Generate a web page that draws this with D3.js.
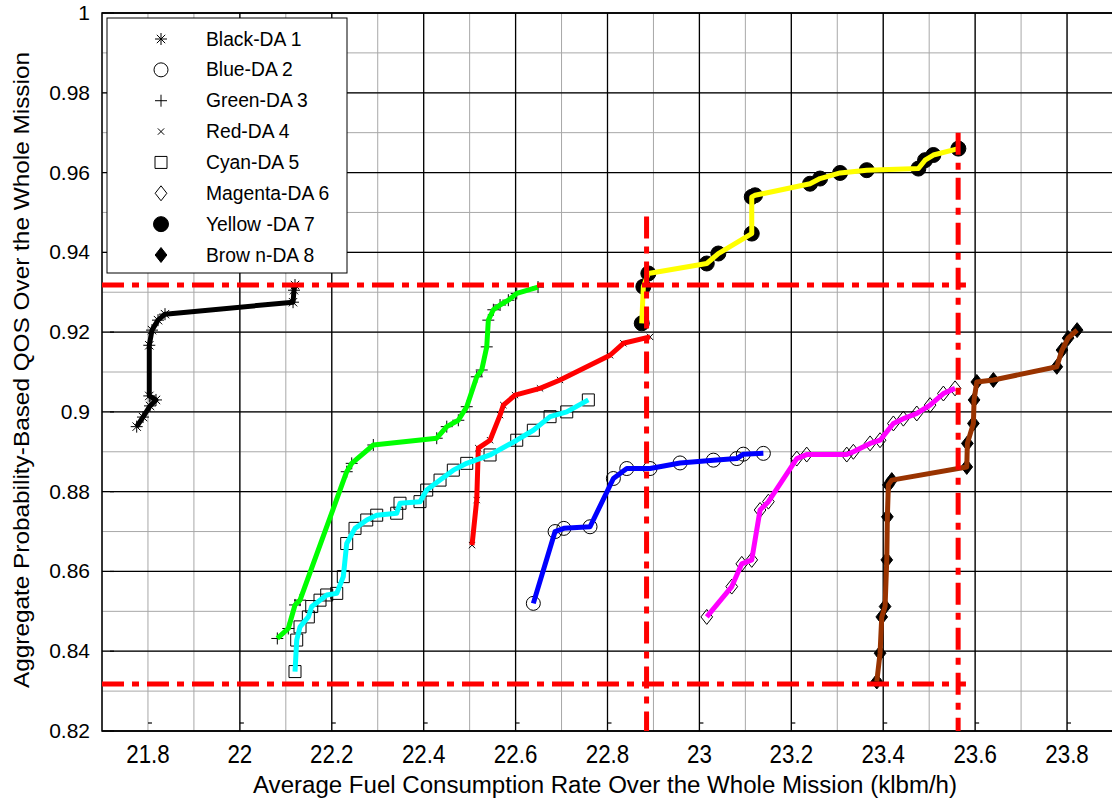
<!DOCTYPE html>
<html>
<head>
<meta charset="utf-8">
<script src="https://cdn.jsdelivr.net/npm/d3@7"></script>
<style>
  body { margin: 0; background: #fff; }
  text { font-family: "Liberation Sans", Arial, sans-serif; fill: #000; }
</style>
</head>
<body>
<svg id="chart"></svg>
<script>
const width = 1112;
const height = 801;

const xTicks = [21.8, 22, 22.2, 22.4, 22.6, 22.8, 23, 23.2, 23.4, 23.6, 23.8];
const yTicks = [0.82, 0.84, 0.86, 0.88, 0.9, 0.92, 0.94, 0.96, 0.98, 1];

const seriesNames = ["Black-DA 1", "Blue-DA 2", "Green-DA 3", "Red-DA 4",
  "Cyan-DA 5", "Magenta-DA 6", "Yellow -DA 7", "Brow n-DA 8"];

// [fuel rate, QOS]
const blackDA1 = [[21.7755,0.8963],[21.7892,0.8987],[21.8045,0.9015],[21.8175,0.9030],
  [21.8029,0.9040],[21.8029,0.9167],[21.8088,0.9205],[21.8219,0.9230],[21.8371,0.9245],
  [22.1157,0.9275],[22.1178,0.9305],[22.12,0.9318]];
const blueDA2 = [[22.6386,0.8520],[22.6859,0.8700],[22.705,0.8708],[22.762,0.8712],
  [22.8128,0.8833],[22.8419,0.8858],[22.8926,0.8858],[22.9579,0.8872],[23.0304,0.8879],
  [23.0813,0.8883],[23.0956,0.8894],[23.1392,0.8896]];
const greenDA3 = [[22.0815,0.8432],[22.1054,0.8457],[22.12,0.8516],[22.1309,0.8528],
  [22.2325,0.8850],[22.2434,0.8871],[22.2904,0.8917],[22.4284,0.8934],[22.4502,0.8963],
  [22.4754,0.8979],[22.4937,0.9013],[22.5155,0.9088],[22.5263,0.9105],[22.5372,0.9163],
  [22.5407,0.9230],[22.5516,0.9256],[22.5662,0.9268],[22.5842,0.9280],[22.6025,0.9297],
  [22.6488,0.9313]];
const redDA4 = [[22.5052,0.8666],[22.5154,0.8779],[22.5189,0.8909],[22.5444,0.8929],
  [22.5662,0.8992],[22.5734,0.9017],[22.5988,0.9042],[22.6532,0.9059],[22.6967,0.9080],
  [22.8055,0.9142],[22.8345,0.9172],[22.8926,0.9188]];
const cyanDA5 = [[22.12,0.8349],[22.1237,0.8428],[22.1309,0.8461],[22.149,0.8486],
  [22.1564,0.8512],[22.1744,0.8528],[22.189,0.8541],[22.2108,0.8545],[22.2251,0.8587],
  [22.2325,0.8670],[22.2506,0.8708],[22.2761,0.8729],[22.2978,0.8741],[22.3413,0.8746],
  [22.3485,0.8771],[22.392,0.8775],[22.4066,0.8804],[22.4356,0.8829],[22.4645,0.8854],
  [22.4937,0.8871],[22.5444,0.8892],[22.6025,0.8929],[22.6386,0.8954],[22.675,0.8988],
  [22.7113,0.9000],[22.7583,0.9030]];
const magentaDA6 = [[23.016,0.8486],[23.0704,0.8562],[23.0922,0.8619],[23.1139,0.8629],
  [23.132,0.8754],[23.1501,0.8775],[23.2119,0.8883],[23.2335,0.8893],[23.3206,0.8893],
  [23.335,0.8900],[23.3714,0.8921],[23.3931,0.8929],[23.4221,0.8971],[23.4438,0.8983],
  [23.473,0.8996],[23.5019,0.9017],[23.5309,0.9046],[23.5563,0.9059]];
const yellowDA7 = [[22.8745,0.9222],[22.878,0.9314],[22.8889,0.9347],[23.016,0.9372],
  [23.0412,0.9397],[23.1139,0.9447],[23.1139,0.9539],[23.1211,0.9543],[23.2408,0.9572],
  [23.2625,0.9585],[23.3061,0.9599],[23.3641,0.9606],[23.4765,0.9610],[23.491,0.9631],
  [23.5091,0.9644],[23.5635,0.9660]];
const brownDA8 = [[23.386,0.8324],[23.3931,0.8395],[23.3968,0.8486],[23.404,0.8512],
  [23.4077,0.8629],[23.409,0.8737],[23.4112,0.8817],[23.4186,0.8829],[23.5818,0.8862],
  [23.5831,0.8921],[23.5962,0.8971],[23.5977,0.9030],[23.6036,0.9075],[23.6397,0.9080],
  [23.7777,0.9113],[23.789,0.9155],[23.8023,0.9185],[23.8219,0.9205]];

const seriesData = [blackDA1, blueDA2, greenDA3, redDA4, cyanDA5, magentaDA6, yellowDA7, brownDA8];

// red dash-dot reference lines
const refQos = [0.9318, 0.8318];
const refFuel = [22.885, 23.563];
const refFuelTop = [0.949, 0.970];
const refQosEnd = 23.58;

const lineColors = ["#000000", "#0000ff", "#00ff00", "#ff0000", "#00ffff", "#ff00ff", "#ffff00", "#993300"];
const markerTypes = ["asterisk", "circle", "plus", "x", "square", "diamond", "dot", "filledDiamond"];

const svg = d3.select("#chart")
  .attr("width", width)
  .attr("height", height);

svg.append("rect").attr("width", width).attr("height", height).attr("fill", "#fff");

const x = d3.scaleLinear().domain([21.7, 23.9]).range([102, 1113]);
const y = d3.scaleLinear().domain([0.82, 1]).range([731, 13]);

// minor grid
const grid = svg.append("g");
grid.selectAll(".vminor")
  .data(d3.range(21.7, 23.95, 0.1))
  .join("line")
  .attr("x1", d => x(d)).attr("x2", d => x(d))
  .attr("y1", y(0.82)).attr("y2", y(1))
  .attr("stroke", "#a8a8a8").attr("stroke-width", 1);
grid.selectAll(".hminor")
  .data(d3.range(0.82, 1.005, 0.01))
  .join("line")
  .attr("x1", x(21.7)).attr("x2", x(23.9))
  .attr("y1", d => y(d)).attr("y2", d => y(d))
  .attr("stroke", "#a8a8a8").attr("stroke-width", 1);

// major grid (first x line comes out grey in the original)
grid.selectAll(".vmajor")
  .data(xTicks.slice(1))
  .join("line")
  .attr("x1", d => x(d)).attr("x2", d => x(d))
  .attr("y1", y(0.82)).attr("y2", y(1))
  .attr("stroke", "#000").attr("stroke-width", 1.3);
grid.selectAll(".hmajor")
  .data(yTicks)
  .join("line")
  .attr("x1", x(21.7)).attr("x2", x(23.9))
  .attr("y1", d => y(d)).attr("y2", d => y(d))
  .attr("stroke", "#000").attr("stroke-width", 1.3);

// axes box
svg.append("rect")
  .attr("x", x(21.7)).attr("y", y(1))
  .attr("width", x(23.9) - x(21.7)).attr("height", y(0.82) - y(1))
  .attr("fill", "none").attr("stroke", "#000").attr("stroke-width", 1.5);

// small inward ticks
const ticks = svg.append("g").attr("stroke", "#000").attr("stroke-width", 1.2);
ticks.selectAll(".tb")
  .data(xTicks)
  .join("line")
  .attr("x1", d => x(d)).attr("x2", d => x(d) + 4)
  .attr("y1", y(0.82) - 8).attr("y2", y(0.82) - 8);
ticks.selectAll(".tl")
  .data(yTicks)
  .join("line")
  .attr("x1", x(21.7) + 8).attr("x2", x(21.7) + 12)
  .attr("y1", d => y(d)).attr("y2", d => y(d));

// tick labels
svg.append("g").selectAll("text")
  .data(xTicks)
  .join("text")
  .attr("transform", d => `translate(${x(d)},763) scale(0.86,1)`)
  .attr("text-anchor", "middle")
  .attr("font-size", 26)
  .text(d => String(+d.toFixed(1)));

svg.append("g").selectAll("text")
  .data(yTicks)
  .join("text")
  .attr("x", 90)
  .attr("y", d => y(d) + 7)
  .attr("text-anchor", "end")
  .attr("font-size", 21)
  .text(d => String(+d.toFixed(2)));

// axis titles
svg.append("text")
  .attr("x", 253).attr("y", 793)
  .attr("font-size", 23)
  .attr("textLength", 704)
  .attr("lengthAdjust", "spacingAndGlyphs")
  .text("Average Fuel Consumption Rate Over the Whole Mission (klbm/h)");

svg.append("text")
  .attr("transform", "translate(29,688) rotate(-90)")
  .attr("font-size", 22)
  .attr("textLength", 636)
  .attr("lengthAdjust", "spacingAndGlyphs")
  .text("Aggregate Probability-Based QOS Over the Whole Mission");

function markerPath(type, s) {
  const c = s * 0.7;
  switch (type) {
    case "plus": return `M${-s},0H${s}M0,${-s}V${s}`;
    case "x": return `M${-c},${-c}L${c},${c}M${-c},${c}L${c},${-c}`;
    case "asterisk": return `M${-s},0H${s}M0,${-s}V${s}M${-c},${-c}L${c},${c}M${-c},${c}L${c},${-c}`;
    case "square": return `M${-s},${-s}H${s}V${s}H${-s}Z`;
    case "diamond":
    case "filledDiamond": return `M0,${-s * 1.15}L${s * 0.9},0L0,${s * 1.15}L${-s * 0.9},0Z`;
    default: return `M${s},0A${s},${s} 0 1,1 ${-s},0A${s},${s} 0 1,1 ${s},0Z`;
  }
}
const markerSize = { asterisk: 6, circle: 7, plus: 6, x: 4.5, square: 6, diamond: 6.5, dot: 7.5, filledDiamond: 6.5 };
const filled = t => t === "dot" || t === "filledDiamond";

const line = d3.line().x(d => x(d[0])).y(d => y(d[1]));
const plot = svg.append("g");

seriesData.forEach((data, i) => {
  const type = markerTypes[i];
  plot.append("g").selectAll("path")
    .data(data)
    .join("path")
    .attr("transform", d => `translate(${x(d[0])},${y(d[1])})`)
    .attr("d", markerPath(type, markerSize[type]))
    .attr("fill", filled(type) ? "#000" : "none")
    .attr("stroke", "#000")
    .attr("stroke-width", 1);
});

seriesData.forEach((data, i) => {
  plot.append("path")
    .datum(data)
    .attr("d", line)
    .attr("fill", "none")
    .attr("stroke", lineColors[i])
    .attr("stroke-width", 5)
    .attr("stroke-linejoin", "round");
});

// reference lines
const ref = svg.append("g")
  .attr("stroke", "#ff0000")
  .attr("stroke-width", 5)
  .attr("stroke-dasharray", "22,8,7,8");
ref.selectAll(".hr")
  .data(refQos)
  .join("line")
  .attr("x1", x(21.7)).attr("x2", x(refQosEnd))
  .attr("y1", d => y(d)).attr("y2", d => y(d));
ref.selectAll(".vr")
  .data(refFuel)
  .join("line")
  .attr("x1", d => x(d)).attr("x2", d => x(d))
  .attr("y1", (d, i) => y(refFuelTop[i])).attr("y2", y(0.82));

// legend
const legend = svg.append("g");
legend.append("rect")
  .attr("x", 107).attr("y", 18)
  .attr("width", 240).attr("height", 255)
  .attr("fill", "#fff").attr("stroke", "#000").attr("stroke-width", 1);
const legRow = d3.scaleLinear().domain([0, 7]).range([39, 255]);
seriesNames.forEach((name, i) => {
  const type = markerTypes[i];
  legend.append("path")
    .attr("transform", `translate(161,${legRow(i)})`)
    .attr("d", markerPath(type, markerSize[type]))
    .attr("fill", filled(type) ? "#000" : "none")
    .attr("stroke", "#000");
  legend.append("text")
    .attr("x", 206).attr("y", legRow(i) + 6.5)
    .attr("font-size", 19.3)
    .text(name);
});
</script>
</body>
</html>
